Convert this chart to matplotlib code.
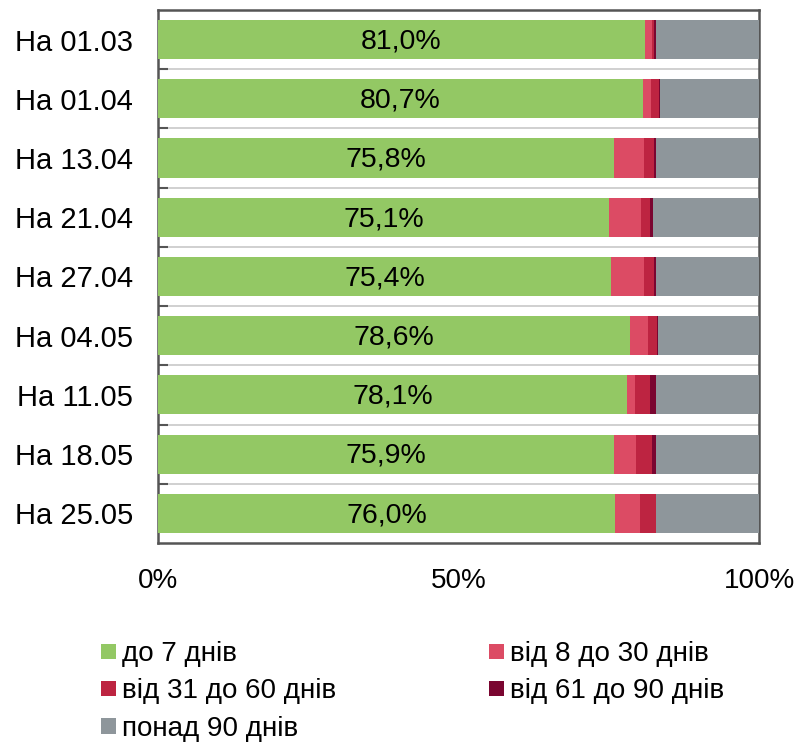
import numpy as np
import matplotlib.pyplot as plt
from matplotlib.patches import Patch

plt.rcParams['font.family'] = ['Liberation Sans', 'DejaVu Sans']

dates = ["На 01.03", "На 01.04", "На 13.04", "На 21.04", "На 27.04",
         "На 04.05", "На 11.05", "На 18.05", "На 25.05"]
labels = ["81,0%", "80,7%", "75,8%", "75,1%", "75,4%", "78,6%", "78,1%", "75,9%", "76,0%"]

# частки, %
d7 = np.array([81.0, 80.7, 75.8, 75.1, 75.4, 78.6, 78.1, 75.9, 76.0])
d8_30 = np.array([1.2, 1.4, 5.1, 5.3, 5.5, 2.9, 1.3, 3.6, 4.2])
d31_60 = np.array([0.4, 1.2, 1.7, 1.5, 1.7, 1.5, 2.4, 2.7, 2.6])
d61_90 = np.array([0.3, 0.2, 0.3, 0.5, 0.3, 0.2, 1.0, 0.6, 0.1])
d90 = 100 - d7 - d8_30 - d31_60 - d61_90

names = ["до 7 днів", "від 8 до 30 днів", "від 31 до 60 днів", "від 61 до 90 днів", "понад 90 днів"]
colors = ["#93c864", "#dc4b64", "#bd2441", "#7a0530", "#8e969b"]
series = [d7, d8_30, d31_60, d61_90, d90]

fig = plt.figure(figsize=(7.99, 7.44), dpi=100)
ax = fig.add_axes([0.1977, 0.2702, 0.7523, 0.7164])

y = np.arange(len(dates))
left = np.zeros(len(dates))
for s, c in zip(series, colors):
    ax.barh(y, s, left=left, height=0.66, color=c, zorder=3)
    left += s

for i in range(len(dates)):
    ax.text(d7[i] / 2, y[i] + 0.03, labels[i], ha='center', va='center', fontsize=20.5, zorder=4)

ax.set_xlim(0, 100)
ax.set_ylim(len(dates) - 0.5, -0.5)
ax.set_yticks(y)
ax.set_yticklabels(dates, fontsize=21)
ax.set_yticks(np.arange(0.5, len(dates) - 1, 1), minor=True)
ax.set_xticks([0, 50, 100])
ax.set_xticklabels(["0%", "50%", "100%"], fontsize=20)
ax.tick_params(axis='y', which='major', length=0, pad=18)
ax.tick_params(axis='y', which='minor', direction='in', length=7, width=1.5, color='#555555')
ax.tick_params(axis='x', length=0, pad=18)
ax.grid(axis='y', which='minor', color='#c8c8c8', linewidth=1.2, zorder=1)
for sp in ax.spines.values():
    sp.set_color('#555555')
    sp.set_linewidth(1.8)

order = [0, 2, 4, 1, 3]
handles = [Patch(facecolor=colors[i], edgecolor='none') for i in order]
fig.legend(handles, [names[i] for i in order], ncol=2, loc='upper left',
           bbox_to_anchor=(0.126, 0.138), frameon=False, fontsize=20,
           handlelength=0.54, handleheight=0.5, handletextpad=0.22,
           columnspacing=5.5, labelspacing=0.4, borderaxespad=0, borderpad=0)

fig.savefig("out.png", dpi=100)
